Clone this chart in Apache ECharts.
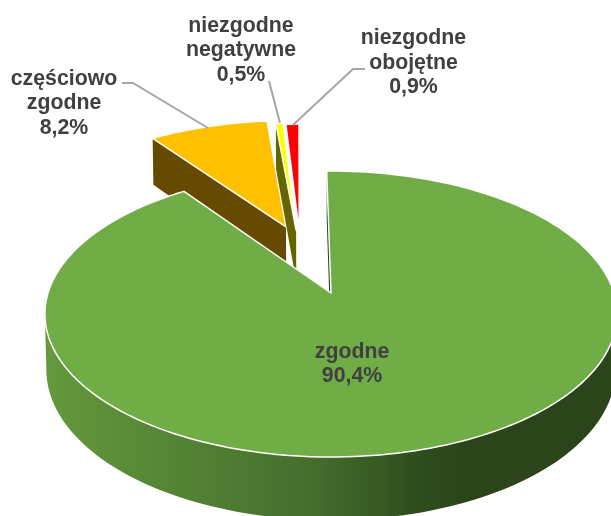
<!DOCTYPE html>
<html><head><meta charset="utf-8">
<style>html,body{margin:0;padding:0;background:#fff}#c{width:611px;height:516px}</style>
<script src="https://cdn.jsdelivr.net/npm/echarts@6/dist/echarts.min.js"></script>
</head><body><div id="c"></div>
<script>
const categories = ['zgodne', 'częściowo\nzgodne', 'niezgodne\nnegatywne', 'niezgodne\nobojętne'];
const values = [90.4, 8.2, 0.5, 0.9];
const topColors = ['#70ad47', '#ffc000', '#ffff00', '#ff0000'];
const explodeU = [0, -0.171, -0.132, -0.12];
const explodeV = [0, -0.507, -0.482, -0.469];
const labelCenters = [[352, 364], [64, 103.5], [241, 50.5], [413.5, 63]];
const leaderLines = [null,
  [[122, 83], [133, 83], [208, 128]],
  [[269, 81], [280, 123]],
  [[365, 69], [353, 69], [293, 125]]];
const startAngle = -1;

// perspective view of a unit disc: apex at (cx, cy)
const cx = 331, cy = 293, R = 283, S = 139.9, D = 55, k = 0.147, m = 0.005;
const total = values.reduce((a, b) => a + b, 0);
function project(u, v, h) {
  const w = 1 - k * v + m * h;
  return [cx + R * u / w, cy + (S * v + D * h) / w];
}
function rim(deg, i, h) {
  const a = deg * Math.PI / 180;
  return project(explodeU[i] + Math.sin(a), explodeV[i] - Math.cos(a), h);
}
function arc(a0, a1, i, h) {
  const pts = [], n = Math.max(2, Math.ceil(Math.abs(a1 - a0) / 1.5));
  for (let j = 0; j <= n; j++) pts.push(rim(a0 + (a1 - a0) * j / n, i, h));
  return pts;
}
const wallGradient = new echarts.graphic.LinearGradient(45, 0, 611, 0, [
  { offset: 0, color: '#64993c' },
  { offset: 0.27, color: '#528034' },
  { offset: 0.47, color: '#456e2d' },
  { offset: 0.66, color: '#2f4d1e' },
  { offset: 0.75, color: '#2b4419' },
  { offset: 1, color: '#2b4419' }
], true);
const wallColors = ['#2b4419', '#654a00', '#666600', null];
const drawRank = [10, 1, 2, 3];
// the curved wall is seen only between the two points where the rim is vertical on screen
const wallFrom = Math.acos(-k) * 180 / Math.PI, wallTo = 360 - wallFrom;

function renderItem(params, api) {
  const i = params.dataIndex;
  const value = api.value(0);
  let before = 0;
  for (let j = 0; j < i; j++) before += values[j];
  const a0 = startAngle + before / total * 360;
  const a1 = a0 + value / total * 360;
  const apex = h => project(explodeU[i], explodeV[i], h);
  const z = drawRank[i];
  const children = [];
  const poly = (points, fill, stroke, zz) => children.push({
    type: 'polygon', z2: zz, silent: true,
    shape: { points },
    style: { fill, stroke: stroke || null, lineWidth: stroke ? 1.5 : 0, lineJoin: 'round' }
  });
  if (i === 0) {
    // curved outer wall of the big slice and the wall of its first cut
    const top = arc(wallFrom, wallTo, 0, 0), bottom = arc(wallTo, wallFrom, 0, 1);
    poly(top.concat(bottom), wallGradient, null, z);
    poly([apex(0), rim(a0, 0, 0), rim(a0, 0, 1), apex(1)], wallColors[0], null, z);
  } else if (wallColors[i]) {
    poly([apex(0), rim(a0, i, 0), rim(a0, i, 1), apex(1)], wallColors[i], null, z);
  }
  poly([apex(0)].concat(arc(a0, a1, i, 0)), topColors[i], '#ffffff', z + 0.5);
  if (leaderLines[i]) {
    children.push({
      type: 'polyline', z2: 20, silent: true,
      shape: { points: leaderLines[i] },
      style: { fill: null, stroke: '#a6a6a6', lineWidth: 2 }
    });
  }
  children.push({
    type: 'text', z2: 30, silent: true,
    style: {
      text: categories[i] + '\n' + value.toFixed(1).replace('.', ',') + '%',
      x: labelCenters[i][0], y: labelCenters[i][1],
      align: 'center', verticalAlign: 'middle',
      font: 'bold 21.3px "Liberation Sans", Arial, sans-serif',
      lineHeight: 24.5, fill: '#404040'
    }
  });
  return { type: 'group', children };
}

const chart = echarts.init(document.getElementById('c'), null, { renderer: 'canvas' });
chart.setOption({
  animation: false,
  backgroundColor: '#ffffff',
  series: [{
    type: 'custom',
    coordinateSystem: 'none',
    renderItem,
    clip: false,
    silent: true,
    data: values.map((v, i) => ({ name: categories[i], value: [v] }))
  }]
});
</script></body></html>
